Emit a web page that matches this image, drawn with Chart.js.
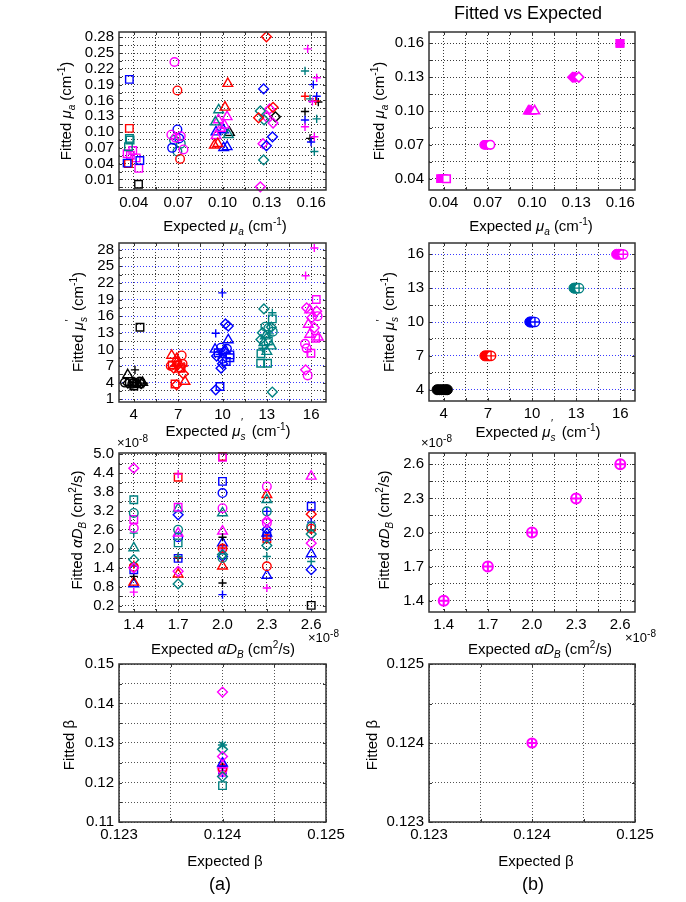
<!DOCTYPE html>
<html><head><meta charset="utf-8">
<script src="https://cdn.jsdelivr.net/npm/chart.js@4.4.1/dist/chart.umd.min.js"></script>
<style>
body{margin:0;background:#fff;}
#wrap{position:relative;width:686px;height:902px;overflow:hidden;font-family:'Liberation Sans',Arial,sans-serif;color:#000;background:#fff;}
canvas{position:absolute;}
.t{position:absolute;white-space:nowrap;font-size:15px;line-height:1;transform:translate(-50%,-50%);}
.r{transform:translate(-50%,-50%) rotate(-90deg);}
.t sub,.t sup,.e sup{font-size:10px;line-height:0;}
.e{position:absolute;white-space:nowrap;font-size:13px;line-height:1;}
.pr{position:relative;font-size:11px;}
</style></head><body><div id="wrap"></div><script>
// ---------- categories / levels ----------
const muaLevels = [0.04, 0.07, 0.10, 0.13, 0.16];   // expected mu_a (cm^-1)
const musLevels = [4, 7, 10, 13, 16];               // expected mu_s' (cm^-1)
const dbLevels  = [1.4, 1.7, 2.0, 2.3, 2.6];        // expected alphaD_B (x1e-8 cm^2/s)
const betaLevels = [0.124];

// ---------- tick labels ----------
const muaFitTicksA = [0.01,0.04,0.07,0.10,0.13,0.16,0.19,0.22,0.25,0.28];
const muaFitTicksB = [0.04,0.07,0.10,0.13,0.16];
const musFitTicksA = [1,4,7,10,13,16,19,22,25,28];
const musFitTicksB = [4,7,10,13,16];
const dbFitTicksA  = [0.2,0.8,1.4,2.0,2.6,3.2,3.8,4.4,5.0];
const dbFitTicksB  = [1.4,1.7,2.0,2.3,2.6];
const betaTicksX   = [0.123,0.124,0.125];
const betaFitTicksA = [0.11,0.12,0.13,0.14,0.15];
const betaFitTicksB = [0.123,0.124,0.125];

// ---------- (a) fitted values: [x as plotted, fitted, mu_a, mu_s'] ----------
const muaFitA = [
 [0.037,0.200,0.04,10],[0.037,0.107,0.04,7],[0.037,0.088,0.04,13],[0.0364,0.072,0.04,13],[0.0393,0.065,0.04,16],
 [0.0355,0.059,0.04,16],[0.0377,0.056,0.04,16],[0.0416,0.051,0.04,16],[0.0434,0.031,0.04,16],[0.0355,0.041,0.04,10],
 [0.0441,0.046,0.04,10],[0.0364,0.040,0.04,7],[0.0432,0.001,0.04,4],[0.0375,0.085,0.04,13],
 [0.0675,0.233,0.07,16],[0.0695,0.179,0.07,7],[0.0695,0.105,0.07,10],[0.0654,0.095,0.07,16],[0.0718,0.092,0.07,16],
 [0.0707,0.088,0.07,10],[0.0684,0.089,0.07,16],[0.0672,0.085,0.07,13],[0.0718,0.078,0.07,13],[0.0659,0.070,0.07,10],
 [0.0695,0.063,0.07,13],[0.0736,0.067,0.07,16],[0.0713,0.049,0.07,7],
 [0.1036,0.192,0.10,7],[0.1017,0.147,0.10,7],[0.0974,0.142,0.10,13],[0.1031,0.129,0.10,16],[0.0972,0.123,0.10,16],
 [0.0952,0.119,0.10,13],[0.1013,0.113,0.10,16],[0.0986,0.107,0.10,16],[0.0956,0.100,0.10,10],[0.1006,0.104,0.10,10],
 [0.1040,0.095,0.10,13],[0.1047,0.099,0.10,4],[0.0956,0.093,0.10,16],[0.0968,0.078,0.10,7],[0.0945,0.075,0.10,7],
 [0.1031,0.072,0.10,10],[0.1008,0.070,0.10,10],
 [0.1297,0.281,0.13,7],[0.1278,0.182,0.13,10],[0.1256,0.140,0.13,13],[0.1342,0.147,0.13,7],[0.1319,0.144,0.13,16],
 [0.1244,0.127,0.13,7],[0.1297,0.129,0.13,16],[0.1281,0.123,0.13,13],[0.1358,0.129,0.13,4],[0.1342,0.117,0.13,16],
 [0.1338,0.091,0.13,10],[0.1274,0.078,0.13,16],[0.1297,0.074,0.13,10],[0.1278,0.047,0.13,13],[0.1256,-0.004,0.13,16],
 [0.1576,0.258,0.16,16],[0.1558,0.216,0.16,13],[0.1637,0.203,0.16,16],[0.1614,0.190,0.16,10],[0.1558,0.168,0.16,7],
 [0.1637,0.168,0.16,10],[0.1592,0.163,0.16,13],[0.1608,0.158,0.16,16],[0.1630,0.159,0.16,7],[0.1648,0.157,0.16,4],
 [0.1558,0.139,0.16,4],[0.1558,0.123,0.16,10],[0.1637,0.125,0.16,13],[0.1558,0.110,0.16,16],[0.1621,0.091,0.16,16],
 [0.1592,0.088,0.16,4],[0.1599,0.081,0.16,10],[0.1621,0.063,0.16,13]
];
const musFitA = [
 [4.42,14.0,0.04,4],[4.08,6.3,0.16,4],[3.59,5.4,0.10,4],
 [3.4,4.0,0.07,4],[3.6,3.9,0.13,4],[3.7,4.2,0.04,4],[3.9,3.8,0.07,4],[4.0,4.1,0.13,4],[4.1,3.7,0.10,4],[4.2,4.0,0.04,4],
 [4.3,3.9,0.16,4],[4.4,4.2,0.07,4],[4.5,3.8,0.13,4],[4.6,4.0,0.10,4],[4.7,3.9,0.16,4],[3.8,3.5,0.16,4],[4.0,3.4,0.04,4],[4.3,3.6,0.10,4],
 [6.56,8.9,0.10,7],[7.24,8.9,0.07,7],[6.9,8.3,0.10,7],
 [6.6,7.2,0.04,7],[6.8,6.9,0.16,7],[7.0,7.3,0.13,7],[7.2,6.7,0.04,7],[7.4,7.0,0.16,7],[6.7,6.6,0.13,7],[7.3,7.4,0.07,7],
 [6.9,7.6,0.10,7],[7.1,6.4,0.10,7],[6.5,7.0,0.07,7],[7.35,5.6,0.13,7],[7.46,4.2,0.10,7],[6.9,3.6,0.13,7],[6.79,3.75,0.04,7],
 [9.99,20.2,0.16,10],[10.39,14.2,0.13,10],[10.2,14.6,0.13,10],[9.54,12.9,0.16,10],[10.39,11.7,0.10,10],
 [9.5,10.0,0.10,10],[9.7,9.4,0.04,10],[9.9,10.3,0.07,10],[10.1,9.6,0.13,10],[10.3,10.1,0.07,10],[10.5,9.0,0.04,10],
 [9.6,8.8,0.13,10],[10.0,8.3,0.07,10],[10.2,9.8,0.10,10],[9.8,9.1,0.16,10],[9.9,6.6,0.13,10],[10.0,7.4,0.13,10],
 [10.25,7.8,0.04,10],[10.5,8.5,0.04,10],[9.54,2.7,0.13,10],[9.83,3.3,0.04,10],
 [12.8,17.3,0.13,13],[13.37,16.6,0.16,13],[13.37,15.5,0.04,13],
 [12.9,14.1,0.07,13],[13.1,13.8,0.07,13],[13.3,14.0,0.13,13],[12.7,13.0,0.13,13],[12.9,12.4,0.10,13],[13.2,12.8,0.16,13],
 [13.4,13.2,0.07,13],[12.6,11.8,0.13,13],[12.8,11.2,0.10,13],[13.1,11.5,0.04,13],[13.3,10.6,0.10,13],[12.7,10.2,0.16,13],
 [13.0,9.6,0.10,13],[12.6,9.2,0.04,13],[12.58,7.5,0.04,13],[13.05,7.5,0.04,13],[13.37,2.3,0.13,13],
 [16.21,28.3,0.16,16],[15.62,23.3,0.16,16],[16.34,19.0,0.04,16],[15.69,17.5,0.13,16],[16.37,16.9,0.13,16],[15.9,17.1,0.10,16],
 [16.43,16.0,0.07,16],[16.03,15.7,0.13,16],[16.21,13.9,0.13,16],[15.8,14.5,0.10,16],[15.9,12.7,0.10,16],[16.3,12.0,0.04,16],
 [16.48,12.2,0.10,16],[15.58,11.0,0.07,16],[15.69,10.2,0.07,16],[15.98,9.3,0.04,16],[15.76,9.6,0.16,16],[15.62,6.3,0.13,16],
 [15.76,5.3,0.07,16]
];
const dbFitA = [
 [1.4,4.56,0.13,16],[1.4,3.56,0.04,13],[1.4,3.14,0.07,13],[1.4,2.93,0.04,16],[1.4,2.66,0.07,16],[1.4,2.50,0.16,13],
 [1.4,2.03,0.10,13],[1.4,1.66,0.13,13],[1.4,1.50,0.16,7],[1.4,1.43,0.07,7],[1.4,1.40,0.13,16],[1.4,1.34,0.04,10],
 [1.4,1.13,0.16,4],[1.4,0.94,0.10,7],[1.4,0.89,0.10,10],[1.4,0.63,0.16,16],
 [1.7,4.37,0.16,16],[1.7,4.27,0.04,7],[1.7,3.32,0.04,16],[1.7,3.27,0.10,13],[1.7,3.08,0.13,10],[1.7,2.61,0.07,13],
 [1.7,2.50,0.10,16],[1.7,2.37,0.07,10],[1.7,2.19,0.04,13],[1.7,1.73,0.16,7],[1.7,1.71,0.16,4],[1.7,1.70,0.04,10],
 [1.7,1.76,0.16,13],[1.7,1.29,0.13,16],[1.7,1.20,0.10,7],[1.7,0.89,0.13,13],
 [2.0,4.90,0.04,16],[2.0,4.93,0.04,7],[2.0,4.14,0.04,10],[2.0,3.77,0.07,10],[2.0,3.29,0.07,16],[2.0,3.14,0.10,13],
 [2.0,2.56,0.10,16],[2.0,2.37,0.16,4],[2.0,2.19,0.10,10],[2.0,2.03,0.16,7],[2.0,2.01,0.07,7],[2.0,1.97,0.16,16],
 [2.0,1.82,0.13,13],[2.0,1.76,0.13,10],[2.0,1.71,0.07,13],[2.0,1.45,0.10,7],[2.0,0.92,0.16,4],[2.0,0.55,0.16,10],
 [2.3,3.98,0.07,16],[2.3,3.72,0.10,7],[2.3,3.56,0.10,13],[2.3,3.19,0.07,13],[2.3,3.19,0.16,10],[2.3,2.89,0.13,16],
 [2.3,2.82,0.07,16],[2.3,2.61,0.13,10],[2.3,2.50,0.10,10],[2.3,2.40,0.04,10],[2.3,2.34,0.16,7],[2.3,2.32,0.04,7],
 [2.3,2.11,0.13,13],[2.3,1.76,0.16,13],[2.3,1.45,0.07,7],[2.3,1.16,0.10,10],[2.3,0.76,0.16,16],
 [2.6,4.30,0.10,16],[2.6,3.35,0.04,10],[2.6,3.10,0.13,7],[2.6,2.85,0.16,10],[2.6,2.71,0.07,13],[2.6,2.61,0.16,7],
 [2.6,2.60,0.16,4],[2.6,2.64,0.07,7],[2.6,2.47,0.13,13],[2.6,2.18,0.13,16],[2.6,1.84,0.10,10],[2.6,1.60,0.16,13],
 [2.6,1.34,0.13,10],[2.6,0.21,0.04,4]
];
const betaFitA = [
 [0.124,0.1429,0.13,16],[0.124,0.1284,0.13,13],[0.124,0.1266,0.13,16],[0.124,0.1249,0.10,10],[0.124,0.1245,0.10,16],
 [0.124,0.1240,0.16,4],[0.124,0.1236,0.07,7],[0.124,0.1232,0.07,16],[0.124,0.1230,0.16,16],[0.124,0.1223,0.16,10],
 [0.124,0.1226,0.04,16],[0.124,0.1215,0.13,13],[0.124,0.1192,0.04,13]
];
const betaStarA = [[0.124,0.1295,0.16,13]];

// ---------- (b) fitted values ----------
const muaFitB_solid = [
 [0.0378,0.04,0.04],[0.0388,0.04,0.04],[0.0398,0.04,0.04],
 [0.0675,0.07,0.07],[0.0685,0.07,0.07],[0.0695,0.07,0.07],
 [0.0975,0.10,0.10],[0.0985,0.10,0.10],[0.0995,0.10,0.10],
 [0.1275,0.13,0.13],[0.1285,0.13,0.13],[0.1295,0.13,0.13],
 [0.1596,0.16,0.16],[0.1600,0.16,0.16]
];
const muaFitB_open = [[0.0419,0.04,0.04],[0.0717,0.07,0.07],[0.1018,0.10,0.10],[0.1318,0.13,0.13]];
const musFitB_solid = [
 [3.55,4,4],[3.7,4,4],[3.85,4,4],[4.0,4,4],[4.15,4,4],[4.25,4,4],
 [6.8,7,7],[6.95,7,7],[7.1,7,7],
 [9.85,10,10],[9.95,10,10],[10.05,10,10],
 [12.85,13,13],[12.95,13,13],[13.05,13,13],
 [15.75,16,16],[15.9,16,16],[16.05,16,16]
];
const musFitB_open = [[7.22,7,7],[10.2,10,10],[13.2,13,13],[16.2,16,16]];
const dbFitB = [[1.4,1.4],[1.7,1.7],[2.0,2.0],[2.3,2.3],[2.6,2.6]];
const betaFitB = [[0.124,0.124]];

// ---------- styles ----------
const colorOf = {4:'#000000',7:'#ff0000',10:'#0000ff',13:'#008080',16:'#ff00ff'};
const shapeOf = {0.04:'rect',0.07:'circle',0.1:'triangle',0.13:'rectRot',0.16:'cross'};
const radiusOf = {rect:5.3,circle:4.3,triangle:5.6,rectRot:4.9,cross:4.1,star:4.6};
const FONT = "'Liberation Sans', Arial, sans-serif";
const wrap = document.getElementById('wrap');

function groupA(points, styleOverride){
  const g = new Map();
  points.forEach(([x,y,a,s]) => { const k=a+'|'+s; if(!g.has(k)) g.set(k,{a,s,data:[]}); g.get(k).data.push({x,y}); });
  return [...g.values()].map(o => { const ps = styleOverride || shapeOf[o.a]; return {
    data:o.data, pointStyle:ps, pointRadius:radiusOf[ps], pointBorderColor:colorOf[o.s],
    pointBackgroundColor:'rgba(0,0,0,0)', pointBorderWidth:1.4, clip:8 }; });
}
function ds(data, style, color, fill, r, bw, order){
  return {data:data.map(p=>({x:p[0],y:p[1]})), pointStyle:style, pointRadius:r, pointBorderColor:color,
    pointBackgroundColor:fill, pointBorderWidth:bw, order:order, clip:8};
}
function withMinor(labels, min, max){
  const step=(labels[1]-labels[0])/2; const out=[];
  let v = labels[0]-step*Math.floor((labels[0]-min)/step+1e-9);
  for(; v<=max+1e-9; v+=step) out.push(+v.toFixed(10));
  return out;
}
function axis(a, dir, size){
  const isLab = v => a.labels.some(l=>Math.abs(l-v)<1e-9);
  return {
    type:'linear', min:a.min, max:a.max,
    afterBuildTicks: s => { s.ticks = withMinor(a.labels,a.min,a.max).map(v=>({value:v})); },
    afterFit: s => { if(dir==='x') s.height=size; else s.width=size; },
    ticks:{autoSkip:false, maxRotation:0, minRotation:0, padding: dir==='x'?4:5, color:'#000',
      font:{family:FONT,size:15},
      callback:(v)=>{ const l=a.labels.find(q=>Math.abs(q-v)<1e-9); return l===undefined?'':a.fmt(l); }},
    grid:{drawTicks:false, lineWidth:1,
      color: ctx => (a.major && ctx.tick && isLab(ctx.tick.value)) ? a.major : (a.gc||'#3a3a3a')},
    border:{display:false, dash:[1,2]}
  };
}
const boxPlugin = {id:'box', afterDatasetsDraw(chart){
  const {ctx, chartArea:c, scales} = chart;
  ctx.save(); ctx.setLineDash([]); ctx.strokeStyle='#333'; ctx.lineWidth=1.5;
  ctx.strokeRect(c.left, c.top, c.right-c.left, c.bottom-c.top);
  ctx.lineWidth=1;
  scales.x.ticks.forEach(t=>{ const p=Math.round(scales.x.getPixelForValue(t.value))+0.5;
    ctx.beginPath(); ctx.moveTo(p,c.bottom); ctx.lineTo(p,c.bottom-3); ctx.moveTo(p,c.top); ctx.lineTo(p,c.top+3); ctx.stroke(); });
  scales.y.ticks.forEach(t=>{ const p=Math.round(scales.y.getPixelForValue(t.value))+0.5;
    ctx.beginPath(); ctx.moveTo(c.left,p); ctx.lineTo(c.left+3,p); ctx.moveTo(c.right,p); ctx.lineTo(c.right-3,p); ctx.stroke(); });
  ctx.restore();
}};
function panel(g, xa, ya, datasets){
  const padL=70, padT=14, padR=26, padB=30;
  const W=g.w+padL+padR, H=g.h+padT+padB;
  const cv=document.createElement('canvas');
  cv.width=W; cv.height=H; cv.style.width=W+'px'; cv.style.height=H+'px';
  cv.style.left=(g.left-padL)+'px'; cv.style.top=(g.top-padT)+'px';
  wrap.appendChild(cv);
  new Chart(cv,{type:'scatter', data:{datasets},
    options:{responsive:false, animation:false, devicePixelRatio:1,
      layout:{padding:{left:0,top:padT,right:padR,bottom:0}},
      plugins:{legend:{display:false}, tooltip:{enabled:false}},
      scales:{x:axis(xa,'x',padB), y:axis(ya,'y',padL)}},
    plugins:[boxPlugin]});
}
function label(html, cx, cy, cls, size){
  const d=document.createElement('div'); d.className='t '+(cls||''); d.innerHTML=html;
  d.style.left=cx+'px'; d.style.top=cy+'px'; if(size) d.style.fontSize=size+'px'; wrap.appendChild(d);
}
function expo(x, y){
  const d=document.createElement('div'); d.className='e'; d.innerHTML='&times;10<sup>-8</sup>';
  d.style.left=x+'px'; d.style.top=y+'px'; wrap.appendChild(d);
}
const f2=v=>v.toFixed(2), f1=v=>v.toFixed(1), f0=v=>String(v), f3=v=>v.toFixed(3);
const BLUE='#3a3aff';

// ---------- panels ----------
// mu_a
panel({left:119,top:32,w:207,h:158}, {min:0.03,max:0.17,labels:muaLevels,fmt:f2}, {min:-0.01,max:0.29,labels:muaFitTicksA,fmt:f2}, groupA(muaFitA));
panel({left:429,top:32,w:206,h:158}, {min:0.03,max:0.17,labels:muaLevels,fmt:f2}, {min:0.03,max:0.17,labels:muaFitTicksB,fmt:f2}, [
  ...muaFitB_open.map(p=>ds([p], shapeOf[p[2]], '#ff00ff', '#ffffff', radiusOf[shapeOf[p[2]]], 1.6, 0)),
  ...muaFitB_solid.map(p=>{ const s = p[2]===0.16 ? 'rect' : shapeOf[p[2]]; return ds([p], s, '#ff00ff', '#ff00ff', radiusOf[s], 1.2, 1); })
]);
// mu_s'
panel({left:119,top:243,w:207,h:159}, {min:3,max:17,labels:musLevels,fmt:f0}, {min:0.5,max:29.2,labels:musFitTicksA,fmt:f0,major:BLUE}, groupA(musFitA));
panel({left:429,top:243,w:206,h:158}, {min:3,max:17,labels:musLevels,fmt:f0}, {min:3,max:17,labels:musFitTicksB,fmt:f0,major:BLUE}, [
  ...musFitB_open.map(p=>ds([p],'cross',colorOf[p[2]],'rgba(0,0,0,0)',4.6,1.4,0)),
  ...musFitB_open.map(p=>ds([p],'circle',colorOf[p[2]],'#ffffff',4.6,1.4,0.5)),
  ...musFitB_solid.map(p=>ds([p],'circle',colorOf[p[2]],colorOf[p[2]],5,1,1))
]);
// alpha D_B
panel({left:119,top:453,w:207,h:159}, {min:1.3,max:2.7,labels:dbLevels,fmt:f1}, {min:0,max:5.04,labels:dbFitTicksA,fmt:f1}, groupA(dbFitA));
panel({left:429,top:453,w:206,h:159}, {min:1.3,max:2.7,labels:dbLevels,fmt:f1}, {min:1.3,max:2.7,labels:dbFitTicksB,fmt:f1}, [
  ds(dbFitB,'cross','#ff00ff','rgba(0,0,0,0)',5,2,0),
  ds(dbFitB,'circle','#ff00ff','rgba(0,0,0,0)',5,2,1)
]);
// beta
panel({left:119,top:664,w:207,h:158}, {min:0.123,max:0.125,labels:betaTicksX,fmt:f3,gc:'#555'}, {min:0.11,max:0.15,labels:betaFitTicksA,fmt:f2,gc:'#555'},
  [...groupA(betaStarA,'star'), ...groupA(betaFitA)]);
panel({left:429,top:664,w:206,h:158}, {min:0.123,max:0.125,labels:betaTicksX,fmt:f3,gc:'#555'}, {min:0.123,max:0.125,labels:betaFitTicksB,fmt:f3,gc:'#555'}, [
  ds(betaFitB,'cross','#ff00ff','rgba(0,0,0,0)',4.6,2,0),
  ds(betaFitB,'circle','#ff00ff','rgba(0,0,0,0)',4.6,2,1)
]);

// ---------- text ----------
label('Fitted vs Expected', 528, 13, '', 18);
const muA = '<i>&mu;</i><sub><i>a</i></sub>';
const muS = '<i>&mu;</i><sub><i>s</i></sub><span class="pr" style="top:-0.9em;left:-0.4em">&prime;</span>';
const aDB = '<i>&alpha;D</i><sub><i>B</i></sub>';
label('Fitted '+muA+' (cm<sup>-1</sup>)', 65, 111, 'r');
label('Fitted '+muA+' (cm<sup>-1</sup>)', 378, 111, 'r');
label('Expected '+muA+' (cm<sup>-1</sup>)', 225, 225);
label('Expected '+muA+' (cm<sup>-1</sup>)', 531, 225);
label('Fitted '+muS+' (cm<sup>-1</sup>)', 77, 322, 'r');
label('Fitted '+muS+' (cm<sup>-1</sup>)', 388, 322, 'r');
label('Expected '+muS+' (cm<sup>-1</sup>)', 228, 430);
label('Expected '+muS+' (cm<sup>-1</sup>)', 538, 431);
label('Fitted '+aDB+' (cm<sup>2</sup>/s)', 76, 530, 'r');
label('Fitted '+aDB+' (cm<sup>2</sup>/s)', 383, 530, 'r');
label('Expected '+aDB+' (cm<sup>2</sup>/s)', 223, 648);
label('Expected '+aDB+' (cm<sup>2</sup>/s)', 540, 648);
label('Fitted &beta;', 68, 745, 'r');
label('Fitted &beta;', 371, 745, 'r');
label('Expected &beta;', 225, 860);
label('Expected &beta;', 536, 860);
label('(a)', 220, 884, '', 18);
label('(b)', 533, 884, '', 18);
expo(117, 436); expo(421, 436); expo(308, 631); expo(625, 631);
</script></body></html>
